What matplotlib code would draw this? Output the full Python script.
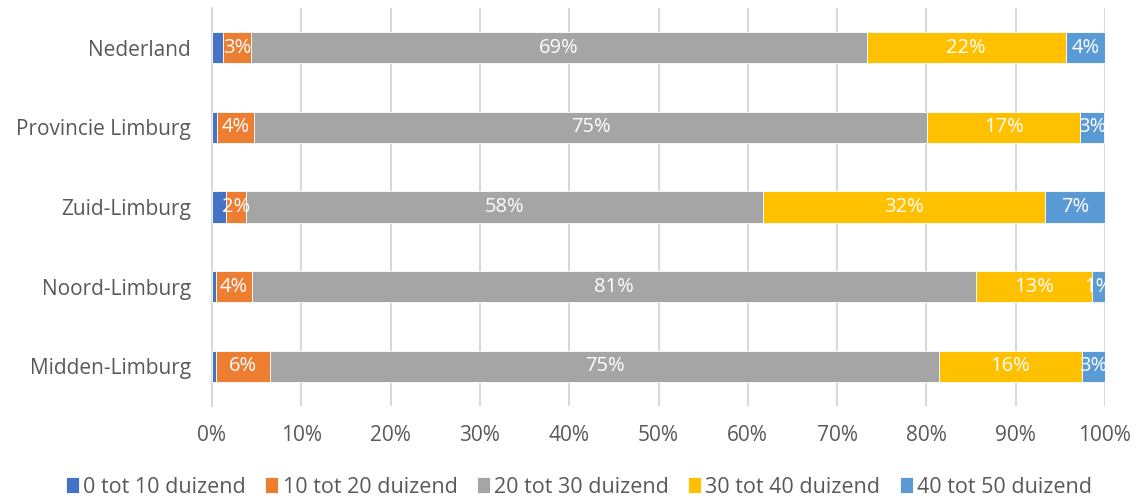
import matplotlib
matplotlib.use("Agg")
import matplotlib.pyplot as plt
import numpy as np

categories = ["Nederland", "Provincie Limburg", "Zuid-Limburg", "Noord-Limburg", "Midden-Limburg"]
series_names = ["0 tot 10 duizend", "10 tot 20 duizend", "20 tot 30 duizend",
                "30 tot 40 duizend", "40 tot 50 duizend"]
s0_10 = [1.2, 0.6, 1.6, 0.4, 0.4]
s10_20 = [3.2, 4.1, 2.2, 4.1, 6.1]
s20_30 = [68.9, 75.4, 57.9, 81.0, 74.9]
s30_40 = [22.3, 17.1, 31.6, 13.1, 16.0]
s40_50 = [4.4, 2.7, 6.8, 1.4, 2.6]
show_labels = [False, True, True, True, True]
colors = ["#4472C4", "#ED7D31", "#A5A5A5", "#FFC000", "#5B9BD5"]
xticks = [0, 10, 20, 30, 40, 50, 60, 70, 80, 90, 100]

plt.rcParams['font.family'] = ['Open Sans', 'DejaVu Sans']
fig = plt.figure(figsize=(11.42, 4.98), dpi=100)
ax = fig.add_axes([212/1142, 1-406/498, (1105-212)/1142, 398/498])

data = [s0_10, s10_20, s20_30, s30_40, s40_50]
y = np.arange(len(categories))
left = np.zeros(len(categories))
for vals, name, col, lab in zip(data, series_names, colors, show_labels):
    vals = np.array(vals)
    ax.barh(y, vals, left=left, height=0.39, color=col, label=name,
            edgecolor="white", linewidth=0.6, zorder=3)
    if lab:
        for yi, l, v in zip(y, left, vals):
            ax.text(l + v/2, yi, f"{round(v):.0f}%", ha="center", va="center",
                    color="white", fontsize=14.5, zorder=4)
    left = left + vals

ax.set_xlim(0, 100)
ax.set_ylim(len(categories) - 0.5, -0.5)
ax.set_yticks(y)
ax.set_yticklabels(categories)
ax.set_xticks(xticks)
ax.set_xticklabels([f"{t}%" for t in xticks])
ax.tick_params(axis="both", length=0, labelsize=15, colors="#595959")
ax.tick_params(axis="x", pad=14)
ax.tick_params(axis="y", pad=15)
ax.grid(axis="x", color="#D9D9D9", linewidth=1.5, zorder=0)
for s in ["top", "right", "bottom"]:
    ax.spines[s].set_visible(False)
ax.spines["left"].set_color("#D9D9D9")
ax.spines["left"].set_linewidth(1.5)

leg = fig.legend(loc="center", bbox_to_anchor=(0.507, 1-487/498), ncol=5, frameon=False,
                 fontsize=15.5, handlelength=0.6, handleheight=0.7, handletextpad=0.2,
                 columnspacing=0.9)
for t in leg.get_texts():
    t.set_color("#595959")

fig.savefig("out.png", dpi=100)
